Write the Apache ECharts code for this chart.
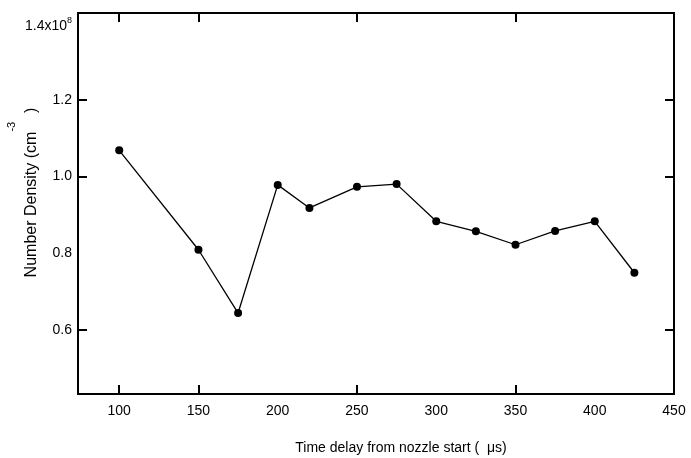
<!DOCTYPE html>
<html>
<head>
<meta charset="utf-8">
<script src="https://cdn.jsdelivr.net/npm/echarts@6/dist/echarts.min.js"></script>
<style>
html,body{margin:0;padding:0;background:#fff;}
#chart{width:691px;height:458px;}
</style>
</head>
<body>
<div id="chart"></div>
<script>
// Data
const timeDelay = [100, 150, 175, 200, 220, 250, 275, 300, 325, 350, 375, 400, 425];
const numberDensity = [1.068, 0.809, 0.644, 0.978, 0.918, 0.973, 0.980, 0.883, 0.857, 0.822, 0.858, 0.883, 0.749];
const xTickLabels = [100, 150, 200, 250, 300, 350, 400, 450];
const xTickMarks = [100, 150, 250, 350];
const yTickLabels = [0.6, 0.8, 1.0, 1.2, 1.4];
const yTickMarks = [0.6, 1.0, 1.2];
const xRange = [74, 450];
const yRange = [0.433, 1.426];

const FONT = "'Liberation Sans', Arial, sans-serif";
const chart = echarts.init(document.getElementById('chart'));

const axisLineStyle = { show: true, lineStyle: { color: '#000', width: 2 } };

const option = {
  backgroundColor: '#fff',
  animation: false,
  grid: { left: 78, right: 17, top: 13, bottom: 64, containLabel: false, outerBoundsMode: 'none' },
  xAxis: [
    {
      type: 'value', position: 'bottom', min: xRange[0], max: xRange[1],
      axisLine: axisLineStyle,
      axisTick: { show: true, inside: true, length: 9, customValues: xTickMarks, lineStyle: { color: '#000', width: 2 } },
      axisLabel: { customValues: xTickLabels, color: '#000', fontSize: 14, fontFamily: FONT, margin: 10 },
      splitLine: { show: false },
      name: 'Time delay from nozzle start (  \u03bcs)',
      nameLocation: 'middle', nameGap: 47, nameMoveOverlap: false,
      nameTextStyle: { color: '#000', fontSize: 14, fontFamily: FONT, padding: [0, 0, 0, 50] }
    },
    {
      type: 'value', position: 'top', min: xRange[0], max: xRange[1],
      axisLine: axisLineStyle,
      axisTick: { show: true, inside: true, length: 9, customValues: xTickMarks, lineStyle: { color: '#000', width: 2 } },
      axisLabel: { show: false },
      splitLine: { show: false }
    }
  ],
  yAxis: [
    {
      type: 'value', position: 'left', min: yRange[0], max: yRange[1],
      axisLine: axisLineStyle,
      axisTick: { show: true, inside: true, length: 9, customValues: yTickMarks, lineStyle: { color: '#000', width: 2 } },
      axisLabel: {
        customValues: yTickLabels, color: '#000', fontSize: 14, fontFamily: FONT, margin: 6,
        formatter: function (v) {
          return Math.abs(v - 1.4) < 1e-6 ? '{m|1.4x10}{sup|8}' : v.toFixed(1);
        },
        rich: {
          m: { fontSize: 14, fontFamily: FONT, color: '#000', verticalAlign: 'bottom', padding: [6, 0, 0, 0] },
          sup: { fontSize: 9, fontFamily: FONT, color: '#000', verticalAlign: 'top', padding: [3, 0, 0, 0] }
        }
      },
      splitLine: { show: false },
      name: '{m|Number Density (cm}{sup|-3}{m|  )}',
      nameLocation: 'middle', nameRotate: 90, nameGap: 38, nameMoveOverlap: false,
      nameTextStyle: {
        color: '#000', fontSize: 16, fontFamily: FONT, padding: [0, 0, 0, 22],
        rich: {
          m: { fontSize: 16, fontFamily: FONT, color: '#000', verticalAlign: 'bottom', padding: [18, 0, 0, 0] },
          sup: { fontSize: 11, fontFamily: FONT, color: '#000', verticalAlign: 'top' }
        }
      }
    },
    {
      type: 'value', position: 'right', min: yRange[0], max: yRange[1],
      axisLine: axisLineStyle,
      axisTick: { show: true, inside: true, length: 9, customValues: yTickMarks, lineStyle: { color: '#000', width: 2 } },
      axisLabel: { show: false },
      splitLine: { show: false }
    }
  ],
  series: [
    {
      type: 'line',
      xAxisIndex: 0, yAxisIndex: 0,
      data: timeDelay.map((t, i) => [t, numberDensity[i]]),
      symbol: 'circle', symbolSize: 8,
      itemStyle: { color: '#000' },
      lineStyle: { color: '#000', width: 1.3 },
      clip: false
    }
  ]
};
chart.setOption(option);
</script>
</body>
</html>
